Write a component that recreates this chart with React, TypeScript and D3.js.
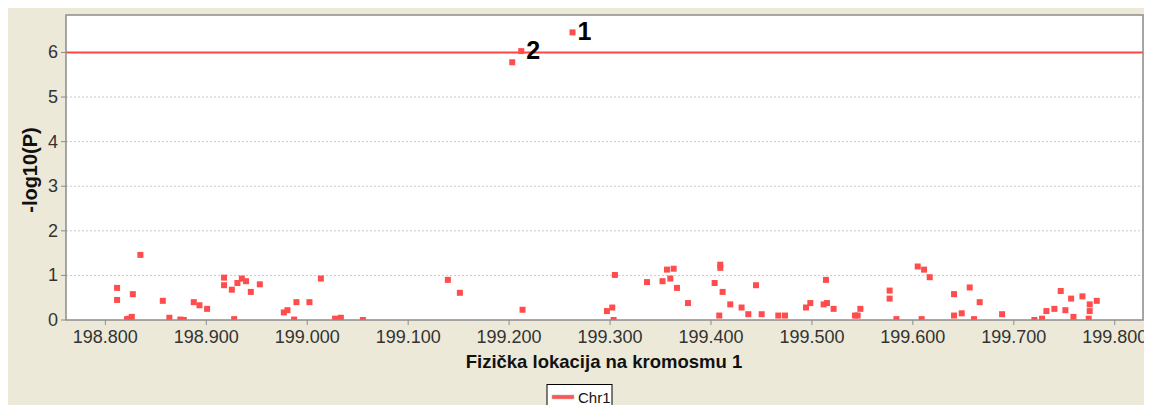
import React, { useEffect, useRef } from "react";
import * as d3 from "d3";

// physical position (Mb) and -log10(P) for each SNP
const positions = [
  198.8116, 198.8116, 198.8215, 198.824, 198.8262, 198.8272, 198.8347, 198.8569, 198.8634, 198.8743,
  198.8777, 198.8876, 198.8932, 198.9008, 198.9176, 198.9176, 198.9253, 198.9276, 198.9308, 198.9352,
  198.9394, 198.9441, 198.953, 198.9768, 198.9804, 198.987, 198.9893, 199.0022, 199.0135, 199.0276,
  199.0333, 199.0551, 199.1393, 199.1512, 199.2031, 199.212, 199.2133, 199.2628, 199.2969, 199.3022,
  199.3035, 199.3048, 199.3366, 199.352, 199.3564, 199.3597, 199.363, 199.3663, 199.3772, 199.4036,
  199.4082, 199.4092, 199.4092, 199.4115, 199.4191, 199.4303, 199.437, 199.4446, 199.4502, 199.4667,
  199.4733, 199.4941, 199.4984, 199.5116, 199.5139, 199.5149, 199.5215, 199.5427, 199.5453, 199.548,
  199.577, 199.577, 199.5837, 199.6048, 199.6087, 199.6111, 199.6167, 199.6408, 199.6408, 199.6484,
  199.6563, 199.6606, 199.6662, 199.6884, 199.7204, 199.728, 199.7323, 199.7402, 199.7465, 199.7511,
  199.7568, 199.7591, 199.768, 199.7742, 199.7752, 199.7752, 199.7822,
];
const logP = [
  0.72, 0.45, 0.02, 0.03, 0.07, 0.58, 1.46, 0.43, 0.05, 0.01,
  0.0, 0.4, 0.33, 0.25, 0.95, 0.78, 0.68, 0.02, 0.83, 0.93,
  0.87, 0.63, 0.8, 0.17, 0.22, 0.01, 0.4, 0.4, 0.93, 0.03,
  0.05, 0.0, 0.9, 0.61, 5.78, 6.03, 0.23, 6.45, 0.2, 0.28,
  0.0, 1.01, 0.85, 0.87, 1.13, 0.93, 1.15, 0.72, 0.38, 0.83,
  0.1, 1.24, 1.17, 0.63, 0.35, 0.28, 0.13, 0.78, 0.13, 0.1,
  0.1, 0.28, 0.38, 0.35, 0.9, 0.38, 0.25, 0.1, 0.1, 0.25,
  0.66, 0.48, 0.02, 1.2, 0.02, 1.13, 0.96, 0.58, 0.1, 0.15,
  0.73, 0.02, 0.4, 0.13, 0.0, 0.03, 0.2, 0.25, 0.65, 0.22,
  0.48, 0.07, 0.53, 0.03, 0.35, 0.2, 0.43,
];

// top hits with their rank labels
const hitPositions = [199.2628, 199.212];
const hitValues = [6.45, 6.03];
const hitLabels = ["1", "2"];

const threshold = 6;
const xTicks = [198.8, 198.9, 199.0, 199.1, 199.2, 199.3, 199.4, 199.5, 199.6, 199.7, 199.8];
const yTicks = [0, 1, 2, 3, 4, 5, 6];

const W = 1152, H = 405;
const FONT = "'Liberation Sans', Arial, sans-serif";

function App() {
  const ref = useRef<SVGSVGElement>(null);

  useEffect(() => {
    const root = d3.select(ref.current);
    root.selectAll("*").remove();
    // page coordinates: body has 8px margin
    const svg = root.append("g").attr("transform", "translate(-8,-8)");

    const left = 66, right = 1143, top = 15, bottom = 320;
    const x = d3.scaleLinear().domain([198.761, 199.828]).range([left, right]);
    const y = d3.scaleLinear().domain([0, 6.84]).range([bottom, top]);

    svg.append("rect").attr("x", 8).attr("y", 8).attr("width", W - 8).attr("height", H - 8).attr("fill", "#ECE9D8");

    svg.append("clipPath").attr("id", "plotclip")
      .append("rect").attr("x", left).attr("y", top).attr("width", right - left).attr("height", bottom - top);

    svg.append("rect")
      .attr("x", left).attr("y", top).attr("width", right - left).attr("height", bottom - top)
      .attr("fill", "#fff");

    // grid lines
    svg.append("g").selectAll("line")
      .data(yTicks.filter(d => d > 0 && d !== threshold))
      .enter().append("line")
      .attr("x1", left).attr("x2", right)
      .attr("y1", d => y(d)).attr("y2", d => y(d))
      .attr("stroke", "#c8c8c8").attr("stroke-dasharray", "2,2");

    // threshold line
    svg.append("line")
      .attr("x1", left).attr("x2", right)
      .attr("y1", y(threshold)).attr("y2", y(threshold))
      .attr("stroke", "#FF4444").attr("stroke-width", 2);

    // points
    svg.append("g").attr("clip-path", "url(#plotclip)")
      .selectAll("rect")
      .data(positions.map((p, i) => [p, logP[i]]))
      .enter().append("rect")
      .attr("x", d => x(d[0]) - 3)
      .attr("y", d => y(d[1]) - 3)
      .attr("width", 6).attr("height", 6)
      .attr("fill", "#FF4D4D");

    // hit labels
    svg.append("g").selectAll("text")
      .data(hitLabels.map((l, i) => ({ l, p: hitPositions[i], v: hitValues[i] })))
      .enter().append("text")
      .attr("x", d => x(d.p) + 5)
      .attr("y", d => y(d.v) + 8)
      .attr("font-family", FONT)
      .attr("font-weight", "bold").attr("font-size", 25)
      .attr("fill", "#000")
      .text(d => d.l);

    // frame
    svg.append("rect")
      .attr("x", left).attr("y", top).attr("width", right - left).attr("height", bottom - top)
      .attr("fill", "none").attr("stroke", "#8c8c8c").attr("stroke-width", 1.5);

    // x axis
    const xa = svg.append("g");
    xa.selectAll("line").data(xTicks).enter().append("line")
      .attr("x1", d => x(d)).attr("x2", d => x(d))
      .attr("y1", bottom).attr("y2", bottom + 5)
      .attr("stroke", "#8c8c8c");
    xa.selectAll("text").data(xTicks).enter().append("text")
      .attr("x", d => x(d)).attr("y", 343)
      .attr("text-anchor", "middle")
      .attr("font-family", FONT)
      .attr("font-size", 18).attr("fill", "#333")
      .text(d => d3.format(".3f")(d));

    // y axis
    const ya = svg.append("g");
    ya.selectAll("line").data(yTicks).enter().append("line")
      .attr("x1", left - 5).attr("x2", left)
      .attr("y1", d => y(d)).attr("y2", d => y(d))
      .attr("stroke", "#8c8c8c");
    ya.selectAll("text").data(yTicks).enter().append("text")
      .attr("x", left - 8).attr("y", d => y(d) + 6)
      .attr("text-anchor", "end")
      .attr("font-family", FONT)
      .attr("font-size", 18).attr("fill", "#333")
      .text(d => d);

    // axis titles
    svg.append("text")
      .attr("x", 604).attr("y", 368)
      .attr("text-anchor", "middle")
      .attr("font-family", FONT)
      .attr("font-weight", "bold").attr("font-size", 18.5)
      .attr("fill", "#111")
      .text("Fizička lokacija na kromosmu 1");
    svg.append("text")
      .attr("transform", "translate(37,170) rotate(-90)")
      .attr("text-anchor", "middle")
      .attr("font-family", FONT)
      .attr("font-weight", "bold").attr("font-size", 20)
      .attr("fill", "#111")
      .text("-log10(P)");

    // legend
    const lg = svg.append("g");
    lg.append("rect").attr("x", 547).attr("y", 384.5).attr("width", 65).attr("height", 30)
      .attr("fill", "#fff").attr("stroke", "#000");
    lg.append("rect").attr("x", 552).attr("y", 395).attr("width", 22).attr("height", 4)
      .attr("fill", "#FF5555").attr("stroke", "#bbb").attr("stroke-width", 0.5);
    lg.append("text").attr("x", 578).attr("y", 403)
      .attr("font-family", FONT)
      .attr("font-size", 15).attr("fill", "#111")
      .text("Chr1");
  }, []);

  return <svg ref={ref} width={W - 8} height={H - 8} style={{ display: "block" }} />;
}

export default App;
